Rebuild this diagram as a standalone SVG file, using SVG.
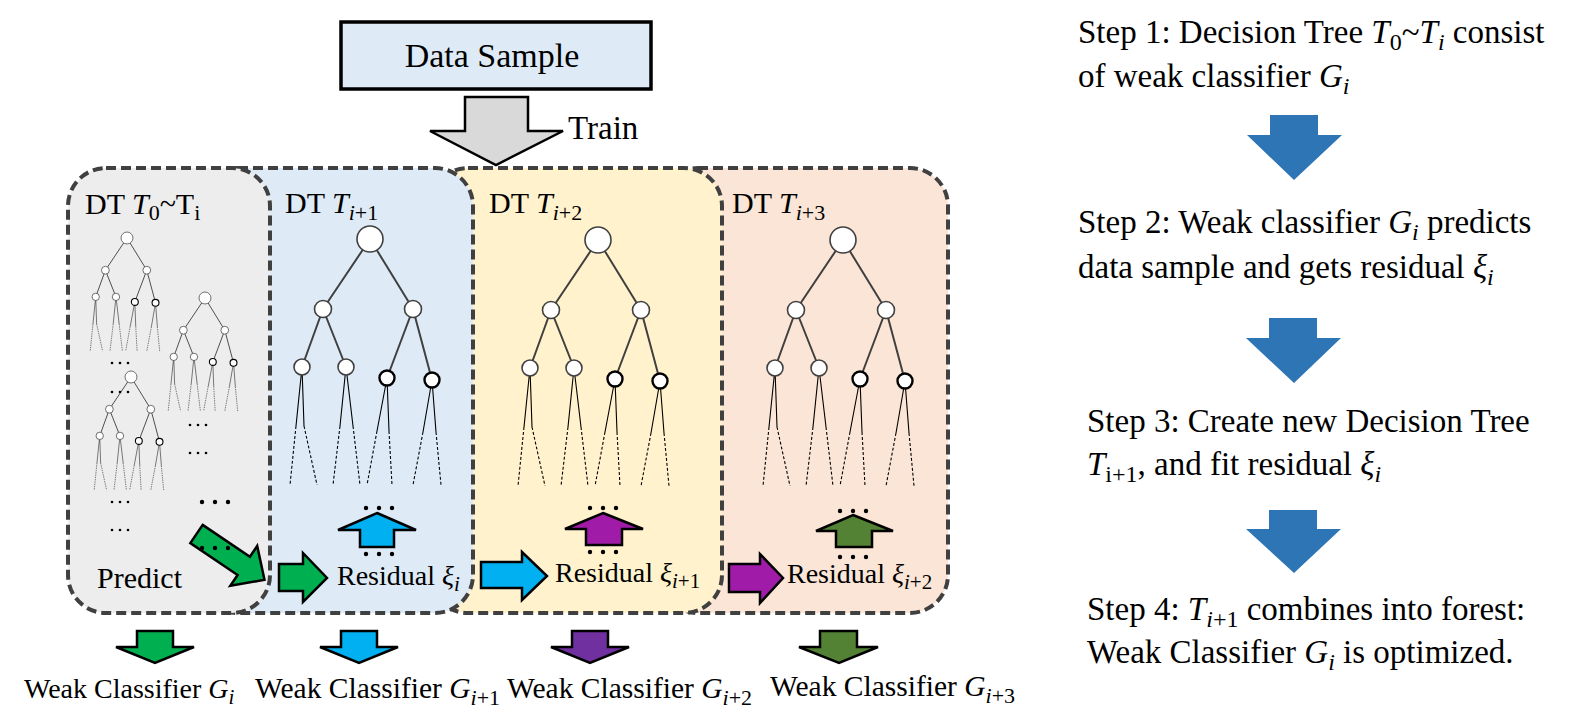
<svg xmlns="http://www.w3.org/2000/svg" xmlns:xlink="http://www.w3.org/1999/xlink" width="1587" height="724" viewBox="0 0 1587 724">
<style>
text{font-family:"Liberation Serif","Times New Roman",serif;fill:#000}
.it{font-style:italic}
.panel{stroke:#404040;stroke-width:4;stroke-dasharray:10 5}
.ed{stroke:#404040;stroke-width:2;fill:none}
.nd{fill:#fff;stroke:#404040;stroke-width:1.6}
.ndb{fill:#fff;stroke:#000;stroke-width:2.4}
.lf{stroke:#000;stroke-width:1.1;fill:none}
.lfd{stroke:#000;stroke-width:1.1;fill:none;stroke-dasharray:3 2}
.blk{stroke:#000;stroke-width:2.5;stroke-linejoin:miter}
.step{fill:#2E75B6}
.dot{fill:#000}
</style>
<defs>
<g id="tree">
<path class="ed" d="M0,0 L-47,70 M0,0 L43,70 M-47,70 L-68,128 M-47,70 L-24,128 M43,70 L17,139 M43,70 L62,141"/>
<path class="lf" d="M-68,128 L-74,187 M-68,128 L-66,187 M-24,128 L-30,187 M-24,128 L-17,187 M17,139 L7,192 M17,139 L19,192 M62,141 L53,193 M62,141 L66,193"/>
<path class="lfd" d="M-74,187 L-80,246 M-66,187 L-53,246 M-30,187 L-37,246 M-17,187 L-10,246 M7,192 L-3,246 M19,192 L22,246 M53,193 L43,246 M66,193 L71,246"/>
<circle class="nd" cx="0" cy="0" r="13"/>
<circle class="nd" cx="-47" cy="70" r="8.5"/>
<circle class="nd" cx="43" cy="70" r="8.5"/>
<circle class="nd" cx="-68" cy="128" r="8"/>
<circle class="nd" cx="-24" cy="128" r="8"/>
<circle class="ndb" cx="17" cy="139" r="7.5"/>
<circle class="ndb" cx="62" cy="141" r="7.5"/>
</g>
<g id="dots3s"><circle class="dot" cx="-8" cy="0" r="1.3"/><circle class="dot" cx="0" cy="0" r="1.3"/><circle class="dot" cx="8" cy="0" r="1.3"/></g>
<g id="dots3b"><circle class="dot" cx="-13" cy="0" r="2.2"/><circle class="dot" cx="0" cy="0" r="2.2"/><circle class="dot" cx="13" cy="0" r="2.2"/></g>
</defs>
<rect width="1587" height="724" fill="#fff"/>

<g id="data-sample">
<rect x="341" y="22" width="310" height="67" fill="#DEEBF7" stroke="#000" stroke-width="3.5"/>
<text x="492" y="67" font-size="34" text-anchor="middle">Data Sample</text>
</g>

<g id="panel-4">
<rect class="panel" x="660" y="168" width="288" height="445" rx="38" fill="#FBE5D6"/>
</g>
<g id="panel-3">
<rect class="panel" x="430" y="168" width="292" height="445" rx="38" fill="#FFF2CC"/>
</g>
<g id="panel-2">
<rect class="panel" x="200" y="168" width="273" height="445" rx="38" fill="#DEEBF7"/>
</g>
<g id="panel-1">
<rect class="panel" x="68" y="168" width="202" height="445" rx="38" fill="#EDEDED"/>
</g>

<g id="train-arrow">
<polygon class="blk" points="465,97 528,97 528,131 563,131 496,165 430,131 465,131" fill="#D9D9D9"/>
<text x="568" y="139" font-size="33">Train</text>
</g>

<g id="panel-1-content">
<text x="85" y="214" font-size="30">DT <tspan class="it">T</tspan><tspan font-size="22" dy="6">0</tspan><tspan dy="-6">~T</tspan><tspan font-size="22" dy="6">i</tspan></text>
<use xlink:href="#tree" transform="translate(127,238) scale(0.46)"/>
<use xlink:href="#tree" transform="translate(205,298) scale(0.46)"/>
<use xlink:href="#tree" transform="translate(131,377) scale(0.46)"/>
<use xlink:href="#dots3s" x="120" y="363"/>
<use xlink:href="#dots3s" x="120" y="392"/>
<use xlink:href="#dots3s" x="198" y="425"/>
<use xlink:href="#dots3s" x="198" y="453"/>
<use xlink:href="#dots3s" x="120" y="502"/>
<use xlink:href="#dots3s" x="120" y="530"/>
<use xlink:href="#dots3b" x="215" y="502"/>
<text x="97" y="588" font-size="30">Predict</text>
</g>

<g id="panel-2-content">
<text x="285" y="213" font-size="30">DT <tspan class="it">T</tspan><tspan font-size="22" dy="7"><tspan class="it">i</tspan>+1</tspan></text>
<use xlink:href="#tree" x="370" y="239"/>
<use xlink:href="#dots3b" x="379" y="508"/>
<use xlink:href="#dots3b" x="379" y="554"/>
<text x="337" y="585" font-size="28">Residual <tspan class="it">ξ</tspan><tspan class="it" font-size="21" dy="6">i</tspan></text>
</g>

<g id="panel-3-content">
<text x="489" y="213" font-size="30">DT <tspan class="it">T</tspan><tspan font-size="22" dy="7"><tspan class="it">i</tspan>+2</tspan></text>
<use xlink:href="#tree" x="598" y="240"/>
<use xlink:href="#dots3b" x="603" y="508"/>
<use xlink:href="#dots3b" x="603" y="552"/>
<text x="555" y="582" font-size="28">Residual <tspan class="it">ξ</tspan><tspan font-size="21" dy="6"><tspan class="it">i</tspan>+1</tspan></text>
</g>

<g id="panel-4-content">
<text x="732" y="213" font-size="30">DT <tspan class="it">T</tspan><tspan font-size="22" dy="7"><tspan class="it">i</tspan>+3</tspan></text>
<use xlink:href="#tree" x="843" y="240"/>
<use xlink:href="#dots3b" x="853" y="511"/>
<use xlink:href="#dots3b" x="853" y="557"/>
<text x="787" y="583" font-size="28">Residual <tspan class="it">ξ</tspan><tspan font-size="21" dy="6"><tspan class="it">i</tspan>+2</tspan></text>
</g>

<g id="connectors">
<polygon class="blk" transform="translate(196.5,534) rotate(34)" points="0,-11 57,-11 57,-24 82,0 57,24 57,11 0,11" fill="#00B050"/>
<use xlink:href="#dots3b" x="215" y="548"/>
<polygon class="blk" points="279,564 303,564 303,553 327,578 303,602 303,591 279,591" fill="#00B050"/>
<polygon class="blk" points="481,562 522,562 522,552 547,576 522,600 522,588 481,588" fill="#00B0F0"/>
<polygon class="blk" points="729,564 760,564 760,554 783,578 760,603 760,592 729,592" fill="#A01CA8"/>
<polygon class="blk" points="377,513 416,530 394,530 394,547 360,547 360,530 338,530" fill="#00B0F0"/>
<polygon class="blk" points="603,513 643,529 622,529 622,545 586,545 586,529 565,529" fill="#A01CA8"/>
<polygon class="blk" points="853,515 893,531 872,531 872,547 836,547 836,531 816,531" fill="#548235"/>
<polygon class="blk" points="137,631 173,631 173,647 194,647 155,663 116,647 137,647" fill="#00B050"/>
<polygon class="blk" points="341,631 377,631 377,647 398,647 359,663 320,647 341,647" fill="#00B0F0"/>
<polygon class="blk" points="572,631 608,631 608,647 629,647 590,663 551,647 572,647" fill="#7030A0"/>
<polygon class="blk" points="820,631 857,631 857,647 878,647 839,663 799,647 820,647" fill="#548235"/>
<polygon class="step" points="1270,115 1318,115 1318,135 1342,135 1294,180 1247,135 1270,135"/>
<polygon class="step" points="1269,318 1317,318 1317,338 1341,338 1294,383 1246,338 1269,338"/>
<polygon class="step" points="1269,510 1317,510 1317,529 1341,529 1294,573 1246,529 1269,529"/>
</g>

<g id="classifiers">
<text x="24" y="698" font-size="28">Weak Classifier <tspan class="it">G</tspan><tspan class="it" font-size="21" dy="6">i</tspan></text>
<text x="255" y="698" font-size="29.5">Weak Classifier <tspan class="it">G</tspan><tspan font-size="22" dy="7"><tspan class="it">i</tspan>+1</tspan></text>
<text x="507" y="698" font-size="29.5">Weak Classifier <tspan class="it">G</tspan><tspan font-size="22" dy="7"><tspan class="it">i</tspan>+2</tspan></text>
<text x="770" y="696" font-size="29.5">Weak Classifier <tspan class="it">G</tspan><tspan font-size="22" dy="7"><tspan class="it">i</tspan>+3</tspan></text>
</g>

<g id="steps">
<text x="1078" y="43" font-size="33">Step 1: Decision Tree <tspan class="it">T</tspan><tspan font-size="24" dy="7">0</tspan><tspan dy="-7">~</tspan><tspan class="it">T</tspan><tspan class="it" font-size="24" dy="7">i</tspan><tspan dy="-7"> consist</tspan></text>
<text x="1078" y="87" font-size="33">of weak classifier <tspan class="it">G</tspan><tspan class="it" font-size="24" dy="7">i</tspan></text>
<text x="1078" y="233" font-size="33">Step 2: Weak classifier <tspan class="it">G</tspan><tspan class="it" font-size="24" dy="7">i</tspan><tspan dy="-7"> predicts</tspan></text>
<text x="1078" y="278" font-size="33">data sample and gets residual <tspan class="it">ξ</tspan><tspan class="it" font-size="24" dy="7">i</tspan></text>
<text x="1087" y="432" font-size="33">Step 3: Create new Decision Tree</text>
<text x="1087" y="475" font-size="33"><tspan class="it">T</tspan><tspan font-size="24" dy="7">i+1</tspan><tspan dy="-7">, and fit residual </tspan><tspan class="it">ξ</tspan><tspan class="it" font-size="24" dy="7">i</tspan></text>
<text x="1087" y="620" font-size="33">Step 4: <tspan class="it">T</tspan><tspan font-size="24" dy="7"><tspan class="it">i</tspan>+1</tspan><tspan dy="-7"> combines into forest:</tspan></text>
<text x="1087" y="663" font-size="33">Weak Classifier <tspan class="it">G</tspan><tspan class="it" font-size="24" dy="7">i</tspan><tspan dy="-7"> is optimized.</tspan></text>
</g>
</svg>
